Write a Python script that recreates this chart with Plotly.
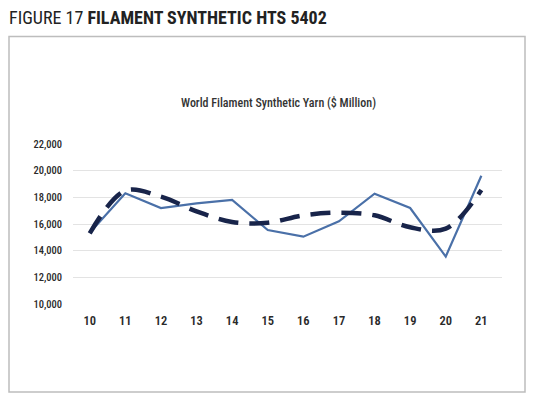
import plotly.graph_objects as go

years = ["10", "11", "12", "13", "14", "15", "16", "17", "18", "19", "20", "21"]
actual = [15350, 18300, 17200, 17550, 17800, 15550, 15050, 16200, 18270, 17200, 13560, 19620]
trend = [15300, 18500, 18050, 16950, 16150, 16100, 16650, 16850, 16650, 15750, 15650, 18550]
y_ticks = [10000, 12000, 14000, 16000, 18000, 20000, 22000]

FONT = "Roboto Condensed, Liberation Sans Narrow, Liberation Sans, Arial, sans-serif"

fig = go.Figure()
fig.add_trace(go.Scatter(x=years, y=actual, mode="lines",
                         line=dict(color="#4a70a8", width=2.2), showlegend=False))
fig.add_trace(go.Scatter(x=years, y=trend, mode="lines",
                         line=dict(color="#18244a", width=4.5, dash="20px,11px", shape="spline", smoothing=1.0),
                         showlegend=False))

W, H = 534, 399
l, r, t, b = 73, 32, 144, 95
pw, ph = W - l - r, H - t - b

def px(xp):
    return (xp - l) / pw

def py(yp):
    return (H - b - yp) / ph

fig.update_layout(
    width=W, height=H,
    margin=dict(l=l, r=r, t=t, b=b),
    paper_bgcolor="white", plot_bgcolor="white",
    font=dict(family=FONT, color="#333333"),
    xaxis=dict(type="category", range=[-0.47, 11.58], showgrid=False, showline=False,
               zeroline=False, ticks="", tickfont=dict(size=12.5, color="#2a2a2a", family=FONT, weight=600),
               ticklabelstandoff=7),
    yaxis=dict(range=[10000, 22000], tickvals=y_ticks, tickformat=",d",
               showgrid=True, gridcolor="#e3e3e3", gridwidth=1, zeroline=False,
               showline=False, ticks="", tickfont=dict(size=10.5, color="#2a2a2a", family=FONT, weight=500),
               ticklabelstandoff=10),
    shapes=[dict(type="rect", xref="paper", yref="paper",
                 x0=px(9), x1=px(525), y0=py(392), y1=py(36.5),
                 line=dict(color="#bdbdbd", width=1.5), fillcolor="rgba(0,0,0,0)", layer="below")],
    annotations=[
        dict(text="FIGURE 17 <b>FILAMENT SYNTHETIC HTS 5402</b>", xref="paper", yref="paper",
             x=px(7), y=py(17), xanchor="left", yanchor="middle", showarrow=False,
             font=dict(size=18, color="#222222", family=FONT)),
        dict(text="World Filament Synthetic Yarn ($ Million)", xref="paper", yref="paper",
             x=px(278), y=py(103), xanchor="center", yanchor="middle", showarrow=False,
             font=dict(size=12, color="#333333", family=FONT, weight=500)),
    ],
)

fig.write_html("out.html", config={"displayModeBar": False},
               post_script="document.body.style.margin='0px';")
